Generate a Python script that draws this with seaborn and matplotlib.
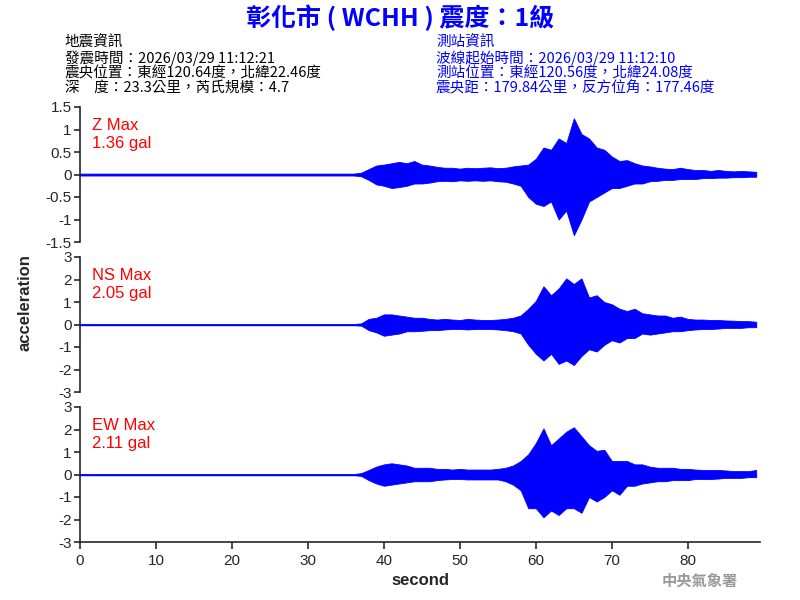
import numpy as np
import matplotlib
matplotlib.use("Agg")
import matplotlib.pyplot as plt
import seaborn as sns

# envelope of each trace at 1 s steps (0..89 s)
t = list(range(0, 90))
base = [0.02] * 37
z_up = base + [0.04, 0.12, 0.2, 0.22, 0.25, 0.28, 0.25, 0.3, 0.22, 0.2, 0.17, 0.15, 0.15,
               0.13, 0.15, 0.14, 0.15, 0.16, 0.14, 0.15, 0.18, 0.2, 0.22, 0.35, 0.6, 0.55, 0.8, 0.7,
               1.25, 0.9, 0.8, 0.6, 0.55, 0.4, 0.3, 0.32, 0.25, 0.2, 0.18, 0.15, 0.13,
               0.12, 0.15, 0.12, 0.1, 0.1, 0.08, 0.1, 0.08, 0.07, 0.08, 0.07, 0.06]
z_lo = base + [0.04, 0.12, 0.22, 0.25, 0.3, 0.28, 0.25, 0.2, 0.2, 0.18, 0.15, 0.14, 0.15,
               0.13, 0.14, 0.13, 0.14, 0.13, 0.15, 0.16, 0.2, 0.25, 0.5, 0.65, 0.7, 0.6, 1.0, 0.8,
               1.35, 1.0, 0.6, 0.5, 0.4, 0.3, 0.3, 0.25, 0.2, 0.2, 0.15, 0.14, 0.12,
               0.12, 0.1, 0.1, 0.1, 0.08, 0.08, 0.07, 0.07, 0.06, 0.06, 0.05, 0.05]
ns_up = base + [0.05, 0.25, 0.3, 0.45, 0.45, 0.4, 0.35, 0.3, 0.3, 0.25, 0.22, 0.25, 0.22,
                0.2, 0.25, 0.22, 0.2, 0.2, 0.22, 0.25, 0.3, 0.4, 0.7, 1.05, 1.7, 1.3, 1.6, 2.05, 1.8,
                2.05, 1.2, 1.3, 1.0, 0.9, 0.7, 0.6, 0.7, 0.5, 0.45, 0.4, 0.4, 0.3, 0.35,
                0.25, 0.22, 0.22, 0.2, 0.2, 0.18, 0.17, 0.15, 0.15, 0.12]
ns_lo = base + [0.05, 0.25, 0.35, 0.5, 0.45, 0.4, 0.3, 0.3, 0.28, 0.25, 0.25, 0.22, 0.2,
                0.2, 0.22, 0.2, 0.2, 0.2, 0.22, 0.25, 0.3, 0.4, 0.9, 1.3, 1.6, 1.3, 1.75, 1.6, 1.8,
                1.4, 1.1, 1.2, 0.9, 0.7, 0.8, 0.6, 0.6, 0.4, 0.45, 0.4, 0.35, 0.3, 0.3,
                0.25, 0.22, 0.2, 0.2, 0.18, 0.15, 0.15, 0.15, 0.12, 0.12]
ew_up = base + [0.06, 0.2, 0.35, 0.45, 0.5, 0.45, 0.4, 0.3, 0.3, 0.3, 0.25, 0.25, 0.22,
                0.25, 0.22, 0.22, 0.22, 0.22, 0.25, 0.3, 0.4, 0.6, 0.9, 1.4, 2.05, 1.3, 1.6, 1.9, 2.1,
                1.7, 1.3, 1.05, 1.1, 0.6, 0.6, 0.6, 0.45, 0.45, 0.35, 0.3, 0.3, 0.3, 0.25,
                0.25, 0.22, 0.2, 0.2, 0.2, 0.18, 0.15, 0.15, 0.15, 0.2]
ew_lo = base + [0.06, 0.25, 0.4, 0.5, 0.45, 0.4, 0.35, 0.3, 0.3, 0.3, 0.25, 0.22, 0.2,
                0.2, 0.22, 0.22, 0.22, 0.22, 0.22, 0.3, 0.45, 0.7, 1.5, 1.5, 1.9, 1.6, 1.8, 1.5, 1.5,
                1.7, 1.0, 1.2, 1.0, 0.7, 0.9, 0.5, 0.5, 0.4, 0.35, 0.3, 0.3, 0.25, 0.25,
                0.25, 0.2, 0.2, 0.2, 0.18, 0.15, 0.15, 0.15, 0.12, 0.12]

channels = ["Z", "NS", "EW"]
max_gal = ["1.36", "2.05", "2.11"]
ylims = [1.5, 3, 3]
yticks = [[-1.5, -1, -0.5, 0, 0.5, 1, 1.5], [-3, -2, -1, 0, 1, 2, 3], [-3, -2, -1, 0, 1, 2, 3]]
ytick_labels = [["-1.5", "-1", "-0.5", "0", "0.5", "1", "1.5"]] + [["-3", "-2", "-1", "0", "1", "2", "3"]] * 2
envelopes = [(z_up, z_lo), (ns_up, ns_lo), (ew_up, ew_lo)]

sns.set_style("white")
plt.rcParams["font.family"] = ["Noto Sans CJK TC", "DejaVu Sans"]

fig = plt.figure(figsize=(8, 6), dpi=100)
W, H = 800, 600
tops = [107, 257, 407]
for i, ch in enumerate(channels):
    ax = fig.add_axes([80 / W, 1 - (tops[i] + 135) / H, 680 / W, 135 / H])
    up, lo = envelopes[i]
    up = np.array(up)
    lo = np.array(lo)
    ax.fill_between(t, up, -lo, color="#0000ff", linewidth=0.6, edgecolor="#0000ff")
    ax.plot(t, np.zeros(len(t)), color="#0000ff", lw=1)
    ax.set_xlim(0, 89.5)
    ax.set_ylim(-ylims[i], ylims[i])
    ax.set_yticks(yticks[i])
    ax.set_yticklabels(ytick_labels[i], fontsize=11, family="Liberation Sans")
    for s in ["top", "right"]:
        ax.spines[s].set_visible(False)
    ax.spines["left"].set_linewidth(1.2)
    ax.tick_params(axis="y", direction="out", length=4, width=1.2, left=True, pad=2)
    if i < 2:
        ax.spines["bottom"].set_visible(False)
        ax.set_xticks([])
    else:
        ax.spines["bottom"].set_linewidth(1.2)
        ax.set_xticks(range(0, 90, 10))
        ax.set_xticklabels([str(v) for v in range(0, 90, 10)], fontsize=11, family="Liberation Sans")
        ax.tick_params(axis="x", direction="out", length=5, width=1.2, bottom=True)
        ax.set_xlabel("second", fontsize=12, fontweight="bold", family="Liberation Sans")
    ax.text(0.018, 0.92, f"{ch} Max\n{max_gal[i]} gal", transform=ax.transAxes, color="red",
            fontsize=12, va="top", linespacing=1.3, family="Liberation Sans")

fig.text(25 / W, 1 - 303 / H, "acceleration", rotation=90, fontsize=12, fontweight="bold",
         va="center", ha="center", family="Liberation Sans")
fig.text(400 / W, 1 - 18 / H, "彰化市 ( WCHH ) 震度：1級", color="#0000ff", fontsize=18,
         fontweight="bold", ha="center", va="center")

left_info = ["地震資訊", "發震時間：2026/03/29 11:12:21", "震央位置：東經120.64度，北緯22.46度",
             "深　度：23.3公里，芮氏規模：4.7"]
right_info = ["測站資訊", "波線起始時間：2026/03/29 11:12:10", "測站位置：東經120.56度，北緯24.08度",
              "震央距：179.84公里，反方位角：177.46度"]
for k, (a, b) in enumerate(zip(left_info, right_info)):
    y = 1 - (43 + 15 * k) / H
    fig.text(65 / W, y, a, fontsize=10.5, va="center", color="black", fontweight="medium")
    fig.text(436 / W, y, b, fontsize=10.5, va="center", color="#0000ff", fontweight="medium")

fig.text(700 / W, 1 - 581 / H, "中央氣象署", color="#999999", fontsize=11, ha="center",
         va="center", fontweight="bold")

fig.savefig("out.png", dpi=100)
